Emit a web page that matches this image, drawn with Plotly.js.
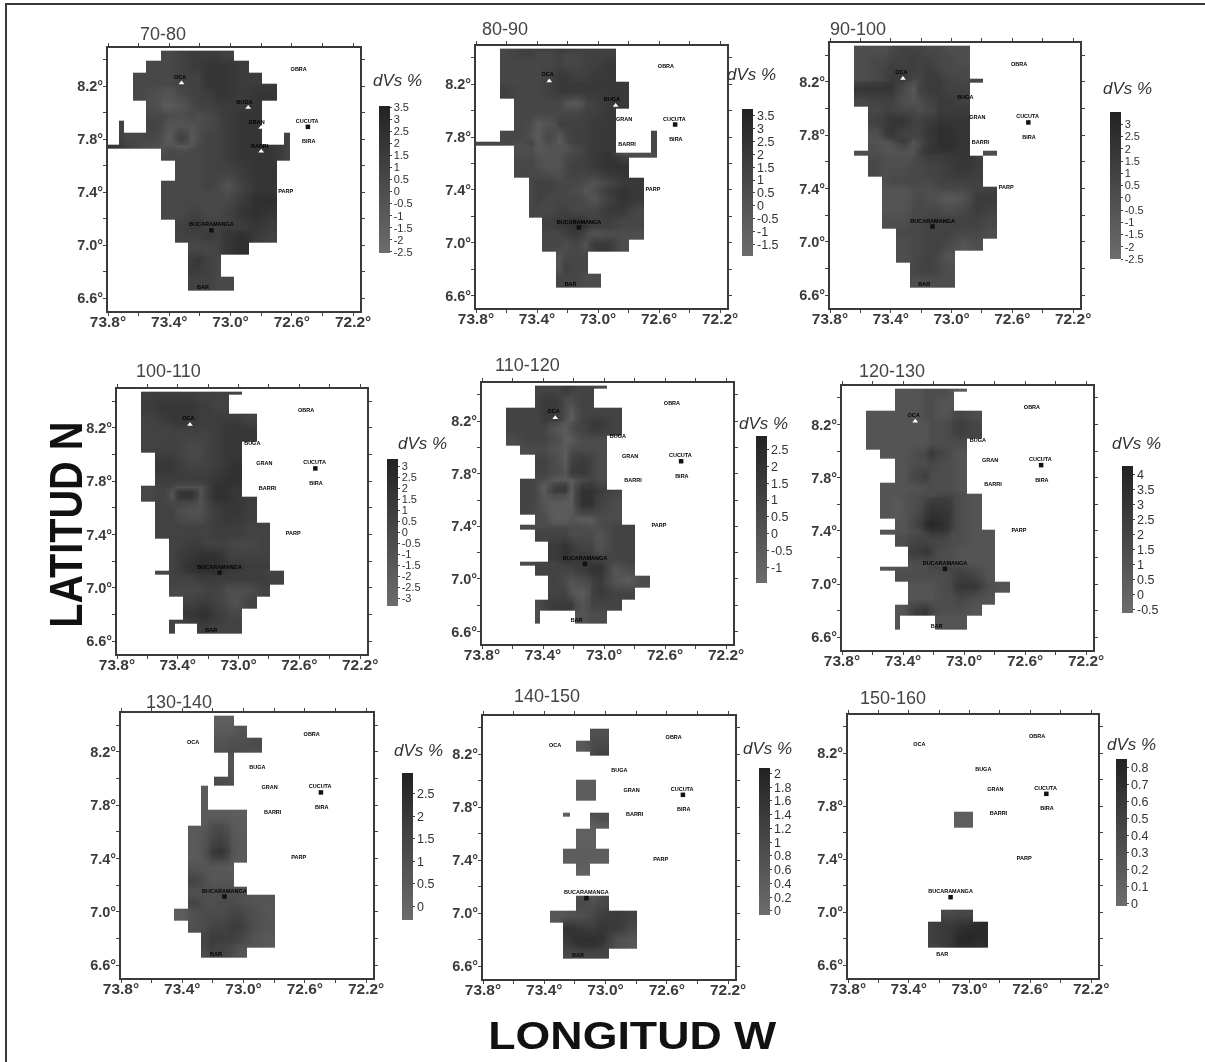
<!DOCTYPE html>
<html><head><meta charset="utf-8">
<script src="https://cdn.plot.ly/plotly-3.0.0.min.js"></script>
<style>html,body{margin:0;padding:0;background:#fff}#chart{filter:grayscale(1)}</style></head>
<body><div id="chart" style="width:1205px;height:1062px"></div>
<script>
const _ = null;
// cell edges of the grid
const lonEdges = [73.80,73.73,73.695,73.64,73.55,73.455,73.42,73.365,73.275,73.235,73.19,73.10,73.065,72.98,72.88,72.795,72.70,72.65,72.615];
const latEdges = [8.47,8.455,8.40,8.31,8.23,8.20,8.10,8.02,7.95,7.86,7.77,7.74,7.69,7.65,7.50,7.42,7.38,7.29,7.20,7.14,7.11,7.03,6.94,6.85,6.77,6.74,6.66];
const panelTitles = ['70-80','80-90','90-100','100-110','110-120','120-130','130-140','140-150','150-160'];

const z70 = [
[_,_,_,_,_,.5,.5,1,1.5,1.5,1.5,1.5,1],
[_,_,_,_,_,.5,.5,1,1.5,1.5,1.5,1.5,1],
[_,_,_,_,.5,.5,.5,1,1.5,1.5,2,2,2,1.5],
[_,_,_,.5,.5,.5,.5,1,1,1,2,2,2,1.5,1.5],
[_,_,_,.5,.5,.5,.5,1,1,1,2,2,2,1.5,1.5,1.5],
[_,_,_,.5,0,-.5,-.5,.5,1,1,1.5,2,2,1.5,2,2],
[_,_,_,_,0,-1,-1,-.5,.5,1,1,1.5,1.5,1.5,2],
[_,_,_,_,.5,.5,0,0,.5,0,.5,1,1.5,2,2],
[_,1,_,_,1,0,-.5,-.5,-.5,0,.5,1,1.5,2,2],
[_,1,.5,.5,.5,-.5,-1,1.5,-1,0,1,1,1.5,2,2,_,_,1],
[2,1.5,1,.5,0,-.5,-.5,-1,-.5,.5,1,1,1.5,2,2,2,1.5,1],
[_,_,_,_,_,0,.5,0,.5,.5,1,1,1.5,2,2,2,1.5,1],
[_,_,_,_,_,.5,.5,.5,.5,.5,1,1,1.5,2,2,2,1.5,1],
[_,_,_,_,_,_,_,.5,.5,.5,1,1,1,1.5,2,2],
[_,_,_,_,_,.5,.5,.5,.5,.5,1,.5,-.5,1,2,2],
[_,_,_,_,_,.5,.5,.5,.5,.5,.5,.5,0,1,2,2],
[_,_,_,_,_,.5,.5,.5,.5,.5,.5,.5,.5,1.5,2.5,2.5],
[_,_,_,_,_,.5,.5,.5,1,1,.5,.5,1,2,2.5,2],
[_,_,_,_,_,_,_,1,1.5,1.5,1,1,1,1.5,2,1.5],
[_,_,_,_,_,_,_,1,1.5,1.5,1,1,1.5,1.5,2,1.5],
[_,_,_,_,_,_,_,1,1,1,1.5,1,2,2.5,1.5,1],
[_,_,_,_,_,_,_,_,.5,.5,.5,1,2,2.5],
[_,_,_,_,_,_,_,_,1.5,2,1,.5],
[_,_,_,_,_,_,_,_,1.5,1.5,1,.5],
[_,_,_,_,_,_,_,_,1,1,1,.5,.5],
[_,_,_,_,_,_,_,_,1,1,1,.5,.5]];

const z80 = [
[_,_,_,1,1.5,1.5,1.5,1.5,2,2,1.5,1.5,1.5,1.5],
[_,_,_,1,1.5,1.5,1,1,1.5,1,1,1.5,1.5,1.5],
[_,_,_,1,1,1,1,1,1.5,1,1,1.5,1.5,2],
[_,_,_,1,1,1,1,1.5,2,2,1.5,1.5,2,2],
[_,_,_,1,1,1,1,1.5,2,2,2,2,2,2,2],
[_,_,_,1.5,1,1,1,1.5,2,2,2,2,2,2,2],
[_,_,_,_,1,1,1,1,1,0,-.5,1,1.5,2,2],
[_,_,_,_,1,1,1,1,1,1,1,1.5,1.5,2],
[_,_,_,_,1,.5,-.5,0,1.5,1.5,1.5,1.5,2,2],
[_,_,_,1,1,0,-.5,1,-.5,1,1.5,1.5,2,2,_,_,_,1],
[1,1,1,1,.5,1.5,-.5,.5,-.5,.5,1.5,1.5,2,2,_,_,_,1],
[_,_,_,_,.5,.5,-.5,0,0,0,1,1.5,2,2,_,_,_,1],
[_,_,_,_,.5,.5,0,0,0,.5,1,1.5,2,2.5,.5,.5,.5,.5],
[_,_,_,_,1,1,.5,0,0,1,1.5,1.5,2,2.5,2.5],
[_,_,_,_,_,1,1.5,1.5,1,1,1,.5,0,1,2,2],
[_,_,_,_,_,1,1.5,1.5,1,1,.5,-.5,.5,2,2.5,2],
[_,_,_,_,_,1,1.5,1,1,1,1,.5,0,1.5,2.5,2],
[_,_,_,_,_,1,1,1,1.5,1.5,1,1,1,2,2,1],
[_,_,_,_,_,_,_,1.5,2,2,2.5,2,1.5,1.5,1,1],
[_,_,_,_,_,_,_,1.5,2,2,2.5,2.5,1.5,1.5,1,1],
[_,_,_,_,_,_,_,1,1,1.5,2,1,0,.5,.5,.5],
[_,_,_,_,_,_,_,1,1,.5,1,0,2,2,.5],
[_,_,_,_,_,_,_,_,0,1,1,1],
[_,_,_,_,_,_,_,_,0,1.5,1,1],
[_,_,_,_,_,_,_,_,1,1,1,.5,.5],
[_,_,_,_,_,_,_,_,1,1,1,.5,.5]];

const z90 = [
[_,_,_,0,0,0,.5,1,1,1,.5,.5,0,0],
[_,_,_,0,0,0,.5,1,1,1,.5,.5,0,0],
[_,_,_,0,.5,.5,1,1,1.5,1,1,.5,.5,0],
[_,_,_,0,.5,1,1.5,1.5,1,1,1.5,1,.5,.5],
[_,_,_,0,.5,1,1.5,1.5,.5,.5,1.5,1.5,1,.5,.5],
[_,_,_,2,2,2,2,.5,-1,1,1.5,1.5,1,1],
[_,_,_,.5,1,1,1,0,-.5,0,1,1.5,1.5,1],
[_,_,_,_,.5,1,1,.5,.5,0,.5,1.5,1.5,1.5],
[_,_,_,_,1,1.5,2,2,1,1,1.5,2,2,2],
[_,_,_,_,0,1.5,2,1,1,1,2,2.5,2.5,2],
[_,_,_,_,-.5,-.5,.5,1.5,-.5,.5,1.5,2.5,2.5,2],
[_,_,_,_,0,-.5,-.5,.5,-.5,.5,2,2.5,2.5,2],
[_,_,_,0,0,-.5,-.5,-.5,-.5,1,2,2,2,2,_,0],
[_,_,_,_,.5,0,0,0,.5,.5,1,1,1.5,2,1.5],
[_,_,_,_,_,0,.5,.5,.5,.5,.5,1,1,1,1],
[_,_,_,_,_,-.5,-.5,-.5,0,0,0,.5,.5,.5,1,1],
[_,_,_,_,_,-.5,-.5,-.5,0,.5,0,-.5,-1,-.5,1.5,1.5],
[_,_,_,_,_,-.5,-.5,-.5,.5,.5,.5,.5,0,.5,1.5,1],
[_,_,_,_,_,0,0,0,.5,.5,1,1,1,1,1,.5],
[_,_,_,_,_,0,0,0,.5,.5,1,1,1,1,1,.5],
[_,_,_,_,_,_,_,.5,.5,.5,1,1,1,.5,.5,0],
[_,_,_,_,_,_,_,0,.5,.5,1,1,.5,-.5,0],
[_,_,_,_,_,_,_,0,.5,.5,1,.5,-.5],
[_,_,_,_,_,_,_,_,.5,1,1,.5,0],
[_,_,_,_,_,_,_,_,.5,.5,.5,.5,0],
[_,_,_,_,_,_,_,_,0,0,0,0,0]];

const z100 = [
[_,_,_,1,1,1,1,1,.5,.5,.5,.5,.5],
[_,_,_,1,1,1,1,1,.5,.5,.5,.5],
[_,_,_,1,1.5,1.5,1.5,1.5,1,1,.5,.5],
[_,_,_,.5,1,1.5,1.5,1.5,1,1,1,1,1,.5],
[_,_,_,.5,.5,1,1,1,1,1,1,1.5,1.5,1],
[_,_,_,.5,.5,.5,.5,.5,.5,.5,1,1.5,1.5,1.5],
[_,_,_,.5,.5,.5,.5,0,0,.5,1,1.5,1.5],
[_,_,_,_,1,1,.5,0,0,.5,1,1.5,1.5],
[_,_,_,_,1.5,1.5,1,.5,.5,.5,1,1.5,2],
[_,_,_,_,1,1,1,1,1,1,1.5,2,2],
[_,_,_,0,.5,0,-1,-1,-1,.5,2,2,1.5],
[_,_,_,0,.5,-1,1.5,2,-1,.5,2,2,1.5],
[_,_,_,0,.5,-1,1.5,1.5,-1,.5,2,2,1.5,1],
[_,_,_,_,.5,.5,-.5,-1,-1,0,1,1.5,1.5,1],
[_,_,_,_,.5,.5,.5,.5,.5,.5,1,1,1,.5,.5],
[_,_,_,_,.5,.5,.5,.5,.5,.5,1,1,1,.5,.5],
[_,_,_,_,_,.5,.5,1,1,.5,.5,.5,0,0,.5],
[_,_,_,_,_,.5,1,1.5,2,2,2,1,.5,.5,.5],
[_,_,_,_,_,.5,1,2,2.5,2.5,2,1.5,1.5,1,1],
[_,_,_,_,0,.5,1,1.5,2,2,2,1.5,1,1,.5,.5],
[_,_,_,_,_,.5,.5,.5,1,1,1,1,1,1,1,.5],
[_,_,_,_,_,0,0,0,0,.5,.5,-.5,-.5,-.5,.5],
[_,_,_,_,_,_,_,.5,1,1,.5,0,-1,.5],
[_,_,_,_,_,_,_,1.5,2,2,1,.5,0],
[_,_,_,_,_,.5,.5,1,1.5,1.5,1,.5,.5],
[_,_,_,_,_,.5,_,_,1,1,.5,.5,.5]];

const z110 = [
[_,_,_,_,_,1,1,1,1.5,1.5,1,1,.5],
[_,_,_,_,_,1,1,1,1.5,1,1,1],
[_,_,_,_,_,1,1.5,1.5,.5,.5,1,1],
[_,_,_,1,1,1,1.5,1.5,.5,-.5,1,1,1,1],
[_,_,_,1,1,1,1.5,1.5,0,-.5,1,1.5,1.5,1],
[_,_,_,1,1,1,1,0,-.5,.5,1,1.5,1.5,1],
[_,_,_,.5,1,1,1,.5,-.5,-.5,.5,.5,.5],
[_,_,_,_,.5,.5,.5,0,-.5,.5,.5,.5,.5],
[_,_,_,_,_,1,1,.5,-.5,1,1.5,1,.5],
[_,_,_,_,_,1,1,.5,0,1.5,1.5,1,.5],
[_,_,_,_,1,.5,.5,-.5,-.5,-.5,.5,1,.5],
[_,_,_,_,1,.5,-.5,1,1.5,-.5,1.5,1.5,1],
[_,_,_,_,1,.5,-.5,1.5,1.5,-.5,2,2,1.5,1],
[_,_,_,_,1,.5,0,-.5,-.5,-.5,2,2,1,.5],
[_,_,_,_,_,.5,.5,-.5,-.5,0,-.5,-.5,.5,.5],
[_,_,_,_,.5,.5,.5,.5,.5,.5,.5,0,.5,1,1],
[_,_,_,_,_,1,1,1,1,.5,.5,.5,0,1,1],
[_,_,_,_,_,_,_,1.5,2,1.5,1,1,0,1,1],
[_,_,_,_,_,_,_,1.5,2,1.5,1.5,1.5,1,1,1],
[_,_,_,_,.5,1,1,1,1.5,1.5,1.5,1.5,1.5,.5,1],
[_,_,_,_,_,1,1,1,1,1,1.5,2,2,0,.5],
[_,_,_,_,_,_,_,1,.5,0,.5,1,1.5,0,-.5,.5],
[_,_,_,_,_,_,_,1,1,0,-.5,1,1.5,1,1],
[_,_,_,_,_,.5,1,1.5,1.5,1.5,0,1,1,1],
[_,_,_,_,_,.5,_,_,_,_,0,.5,.5],
[_,_,_,_,_,.5,_,_,_,_,0,.5,.5]];

const z120 = [
[_,_,_,_,_,1,1,1,1.5,1.5,1.5,1,.5],
[_,_,_,_,_,1,1,1,1.5,1.5,1.5,1],
[_,_,_,_,_,1,1,1,1.5,1.5,1,1],
[_,_,_,1,1,1,1,1,1.5,1.5,1,1.5,2,1.5],
[_,_,_,1,1,1,1,1,1,1.5,1.5,2,2.5,2],
[_,_,_,1,1,1,1,1,1,1.5,1.5,2,2.5,2],
[_,_,_,1,1,1,1,1,1,1.5,1.5,1.5,1.5],
[_,_,_,_,1,1,1,1.5,2,3,2,1.5,1],
[_,_,_,_,_,1,1,1.5,1.5,2,1.5,1.5,1],
[_,_,_,_,_,1,1,2,2.5,1.5,1.5,1.5,1],
[_,_,_,_,1,1,1,1.5,1.5,1.5,1.5,1.5,1],
[_,_,_,_,1,1,1,1,1.5,1.5,1.5,1.5,1],
[_,_,_,_,1,1,1,1.5,1.5,1.5,2,2,1.5,1],
[_,_,_,_,1,.5,1,1.5,2.5,3,3,2.5,1.5,1],
[_,_,_,_,_,1,1,2,3.5,4,3.5,2.5,1.5,1],
[_,_,_,_,1,1,1,1.5,2.5,3,3,2,1.5,1,1],
[_,_,_,_,_,1.5,1.5,2,2,2,2,1.5,1.5,1,1],
[_,_,_,_,_,_,_,2.5,3,2.5,1.5,1.5,1,1,1],
[_,_,_,_,_,_,_,1.5,1.5,1.5,1.5,1.5,1,1,1],
[_,_,_,_,1,1,1,1.5,1.5,2,2,2,2,1.5,1],
[_,_,_,_,_,1.5,1.5,1.5,1.5,1.5,1.5,2,2.5,2,1],
[_,_,_,_,_,_,_,1,1,1,1.5,2,3,3,1.5,1],
[_,_,_,_,_,_,_,1,1,1,1.5,1.5,2,1.5,1],
[_,_,_,_,_,1,1,2.5,3,2,1.5,1.5,1.5,1],
[_,_,_,_,_,1,_,_,_,_,1,1,1],
[_,_,_,_,_,1,_,_,_,_,1,1,1]];

const z130 = [
[_,_,_,_,_,_,_,_,_,_,.3,.3],
[_,_,_,_,_,_,_,_,_,_,.3,.3],
[_,_,_,_,_,_,_,_,_,_,.5,.5,.8],
[_,_,_,_,_,_,_,_,_,_,.8,1,1,1.2],
[_,_,_,_,_,_,_,_,_,_,1,1.2,1.2,1],
[_,_,_,_,_,_,_,_,_,_,_,.8],
[_,_,_,_,_,_,_,_,_,_,_,.8],
[_,_,_,_,_,_,_,_,_,_,1.2,1],
[_,_,_,_,_,_,_,_,.5],
[_,_,_,_,_,_,_,_,.5],
[_,_,_,_,_,_,_,_,.5,.4,.4,.4,.4],
[_,_,_,_,_,_,_,_,.5,.5,.5,.4,.4],
[_,_,_,_,_,_,_,_,.5,.8,.8,.5,.4],
[_,_,_,_,_,_,_,.5,.8,1.2,1.5,.8,.5],
[_,_,_,_,_,_,_,.5,1,1.8,2.2,1,.5],
[_,_,_,_,_,_,_,.5,.8,1.4,1.5,.8,.5],
[_,_,_,_,_,_,_,.8,.7,.7,.6,.5],
[_,_,_,_,_,_,_,1.5,1,.7,.7,.7],
[_,_,_,_,_,_,_,1,1,1,1,1,.8],
[_,_,_,_,_,_,_,1,1,1,1,1,1,.8,.8],
[_,_,_,_,_,_,_,1.5,1,1,1.2,1.2,1,.8,.7],
[_,_,_,_,_,.4,.4,1,1.2,1.2,1.2,1.5,1.5,1,.7],
[_,_,_,_,_,_,_,1,1.2,1.5,1.5,1.8,1.8,1,.8],
[_,_,_,_,_,_,_,_,1.5,1.8,1.8,1.8,1.5,.8,.6],
[_,_,_,_,_,_,_,_,1.5,1.8,1.5,1.5,1,.8,.6],
[_,_,_,_,_,_,_,_,1.2,1.5,1.5,1.2,.8]];

const z140 = [
[],
[],
[_,_,_,_,_,_,_,_,_,_,_,.8,.8],
[_,_,_,_,_,_,_,_,_,_,.5,1,1],
[_,_,_,_,_,_,_,_,_,_,_,1,1.2],
[],
[],
[_,_,_,_,_,_,_,_,_,_,.4,.4],
[_,_,_,_,_,_,_,_,_,_,.4,.4],
[],
[_,_,_,_,_,_,_,_,.3,_,_,.8,.8],
[_,_,_,_,_,_,_,_,_,_,_,.6,.8],
[_,_,_,_,_,_,_,_,_,_,_,.4,.5],
[_,_,_,_,_,_,_,_,_,_,.3,.3],
[_,_,_,_,_,_,_,_,.4,.4,.4,.4,.4],
[_,_,_,_,_,_,_,_,.4,.4,.4,.4,.4],
[_,_,_,_,_,_,_,_,_,_,.3],
[],
[],
[_,_,_,_,_,_,_,_,_,_,.8,.6,1],
[_,_,_,_,_,_,_,_,_,_,1,.8,1],
[_,_,_,_,_,_,_,.6,.7,.7,.8,1.1,1.3,1.4,1.2],
[_,_,_,_,_,_,_,_,1.6,1.6,1.4,1.3,1.5,1.4,1],
[_,_,_,_,_,_,_,_,1.4,1.6,1.7,1.7,1.6,.8,.6],
[_,_,_,_,_,_,_,_,1.2,1.4,1.6,1.6,1.4,.8,.6],
[_,_,_,_,_,_,_,_,1,1,1.1,1.1,1.1]];

const z150 = [
[],[],[],[],[],[],[],[],[],[],
[_,_,_,_,_,_,_,_,_,_,_,.15,.15],
[_,_,_,_,_,_,_,_,_,_,_,.15,.15],
[_,_,_,_,_,_,_,_,_,_,_,.15,.15],
[],[],[],[],[],[],[],[],
[_,_,_,_,_,_,_,_,_,_,.4,.45,.45],
[_,_,_,_,_,_,_,_,.5,.55,.6,.65,.7,.75],
[_,_,_,_,_,_,_,_,.5,.55,.6,.75,.8,.75],
[_,_,_,_,_,_,_,_,.5,.5,.6,.75,.75,.7],
[]];

const panelZ = [z70,z80,z90,z100,z110,z120,z130,z140,z150];
// colour-bar ranges and labels
const barMin = [-2.55,-1.95,-2.5,-3.35,-1.46,-0.61,-0.3,-0.06,-0.016];
const barMax = [3.55,3.76,3.5,3.33,2.9,4.28,2.96,2.08,0.853];
const barTicks = [
 ['3.5','3','2.5','2','1.5','1','0.5','0','-0.5','-1','-1.5','-2','-2.5'],
 ['3.5','3','2.5','2','1.5','1','0.5','0','-0.5','-1','-1.5'],
 ['3','2.5','2','1.5','1','0.5','0','-0.5','-1','-1.5','-2','-2.5'],
 ['3','2.5','2','1.5','1','0.5','0','-0.5','-1','-1.5','-2','-2.5','-3'],
 ['2.5','2','1.5','1','0.5','0','-0.5','-1'],
 ['4','3.5','3','2.5','2','1.5','1','0.5','0','-0.5'],
 ['2.5','2','1.5','1','0.5','0'],
 ['2','1.8','1.6','1.4','1.2','1','0.8','0.6','0.4','0.2','0'],
 ['0.8','0.7','0.6','0.5','0.4','0.3','0.2','0.1','0']];
// towns
const townNames = ['OCA','BUGA','GRAN','BARRI','CUCUTA','BIRA','OBRA','PARP','BUCARAMANGA','BAR'];
const townLon = [73.33,72.91,72.83,72.81,72.50,72.49,72.555,72.64,73.125,73.18];
const townLat = [8.27,8.08,7.93,7.745,7.935,7.78,8.33,7.405,7.155,6.68];
const blackLon = [72.495,73.125];
const blackLat = [7.895,7.115];
const whiteLon = [[73.32,72.885,72.80,72.80],[73.32,72.885],[73.32],[73.32],[73.32],[73.32],[],[],[]];
const whiteLat = [[8.225,8.04,7.89,7.71],[8.225,8.04],[8.225],[8.225],[8.225],[8.225],[],[],[]];
// axis ticks
const lonTicks = [73.8,73.6,73.4,73.2,73.0,72.8,72.6,72.4,72.2];
const lonLabels = ['73.8°','','73.4°','','73.0°','','72.6°','','72.2°'];
const latTicks = [6.6,6.8,7.0,7.2,7.4,7.6,7.8,8.0,8.2,8.4];
const latLabels = ['6.6°','','7.0°','','7.4°','','7.8°','','8.2°',''];

// page layout, in pixels
const W = 1205, H = 1062;
const boxes = [[108,360,48,311],[476,727,46,308],[830,1080,43,308],[117,367,389,654],[482,733,383,644],[842,1093,386,650],[121,373,713,978],[483,735,716,979],[848,1098,715,978]];
const titlePos = [[163,34],[505,29],[858,29],[168,371],[527,365],[892,371],[179,702],[547,696],[893,698]];
const dvsPos = [[397,80],[751,75],[1127,89],[423,444],[763,424],[1136,444],[418,750],[767,748],[1131,744]];
const barPos = [[379,106],[742,109],[1110,112],[387,459],[756,436],[1122,466],[402,773],[759,768],[1116,759]];

const grayScale = [[0,'#6c6c6c'],[0.5,'#484848'],[1,'#222222']];
const fx = p => p / W, fy = p => 1 - p / H;
const nCols = lonEdges.length - 1;
const latAsc = latEdges.slice().reverse();
const pad = r => { const o = r.slice(); while (o.length < nCols) o.push(null); return o; };

const traces = [], annotations = [];
const layout = {
  width: W, height: H, margin: {l:0,r:0,t:0,b:0,autoexpand:false}, paper_bgcolor:'#fff', plot_bgcolor:'#fff',
  showlegend:false, hovermode:false, font:{family:'Liberation Sans, Arial, sans-serif', color:'#333'},
  shapes:[
    {type:'line',xref:'paper',yref:'paper',x0:fx(5),x1:fx(1205),y0:fy(4),y1:fy(4),line:{color:'#3a3a3a',width:2}},
    {type:'line',xref:'paper',yref:'paper',x0:fx(6),x1:fx(6),y0:fy(3),y1:fy(1062),line:{color:'#3a3a3a',width:2}}
  ]
};
panelZ.forEach((z, i) => {
  const k = i === 0 ? '' : String(i + 1);
  const xa = 'x' + k, ya = 'y' + k;
  const b = boxes[i];
  const axLine = {showline:true, linecolor:'#3a3a3a', linewidth:2, mirror:'allticks', ticks:'outside', ticklen:3, tickwidth:1, tickcolor:'#444', showgrid:false, zeroline:false};
  layout['xaxis' + k] = Object.assign({domain:[fx(b[0]),fx(b[1])], anchor:ya, range:[73.8,72.155], tickmode:'array', tickvals:lonTicks, ticktext:lonLabels, tickangle:0, ticklabelstandoff:-8, tickfont:{size:15.5,weight:'bold',color:'#3a3a3a'}}, axLine);
  layout['yaxis' + k] = Object.assign({domain:[fy(b[3]),fy(b[2])], anchor:xa, range:[6.505,8.49], tickmode:'array', tickvals:latTicks, ticktext:latLabels, ticklabelstandoff:-3, tickfont:{size:14.5,weight:'bold',color:'#3a3a3a'}}, axLine);
  const labels = barTicks[i];
  traces.push({
    type:'heatmap', xaxis:xa, yaxis:ya, x:lonEdges, y:latAsc,
    z:z.map(pad).reverse(), zsmooth:'best', zmin:barMin[i], zmax:barMax[i], colorscale:grayScale, hoverongaps:false,
    colorbar:{x:fx(barPos[i][0]), xanchor:'left', xpad:0, y:fy(barPos[i][1]), yanchor:'top', ypad:0,
      thicknessmode:'pixels', thickness:11, lenmode:'pixels', len:147, outlinewidth:0,
      tickmode:'array', tickvals:labels.map(Number), ticktext:labels, ticks:'outside', ticklen:2, tickcolor:'#444', tickfont:{size:labels.length >= 12 ? 11 : 12.5, color:'#333'}}
  });
  traces.push({type:'scatter', mode:'text', xaxis:xa, yaxis:ya, x:townLon, y:townLat, text:townNames, textposition:'middle center', textfont:{size:5.5,color:'#000',weight:'bold'}});
  traces.push({type:'scatter', mode:'markers', xaxis:xa, yaxis:ya, x:blackLon, y:blackLat, marker:{symbol:'square',size:4.5,color:'#111'}});
  if (whiteLon[i].length) traces.push({type:'scatter', mode:'markers', xaxis:xa, yaxis:ya, x:whiteLon[i], y:whiteLat[i], marker:{symbol:'triangle-up',size:5,color:'#fff'}});
  annotations.push({xref:'paper',yref:'paper',x:fx(titlePos[i][0]),y:fy(titlePos[i][1]),text:panelTitles[i],showarrow:false,font:{size:18,color:'#444'},xanchor:'center',yanchor:'middle'});
  annotations.push({xref:'paper',yref:'paper',x:fx(dvsPos[i][0]),y:fy(dvsPos[i][1]),text:'<i>dVs %</i>',showarrow:false,font:{size:17,color:'#333'},xanchor:'center',yanchor:'middle'});
});
annotations.push({xref:'paper',yref:'paper',x:fx(66),y:fy(525),text:'LATITUD N',textangle:-90,showarrow:false,font:{size:47,weight:'bold',color:'#111'},xanchor:'center',yanchor:'middle'});
annotations.push({xref:'paper',yref:'paper',x:fx(632),y:fy(1035),text:'LONGITUD W',showarrow:false,font:{size:38.6,weight:'bold',color:'#111'},xanchor:'center',yanchor:'middle'});
layout.annotations = annotations;
Plotly.newPlot('chart', traces, layout, {displayModeBar:false, staticPlot:true}).then(() => {
  // the two big axis captions are stretched in the reference
  document.querySelectorAll('#chart .annotation-text').forEach(t => {
    const s = t.textContent;
    const len = s === 'LATITUD N' ? 206 : s === 'LONGITUD W' ? 288 : 0;
    if (len) { t.setAttribute('textLength', len); t.setAttribute('lengthAdjust', 'spacingAndGlyphs'); }
  });
});
</script></body></html>
